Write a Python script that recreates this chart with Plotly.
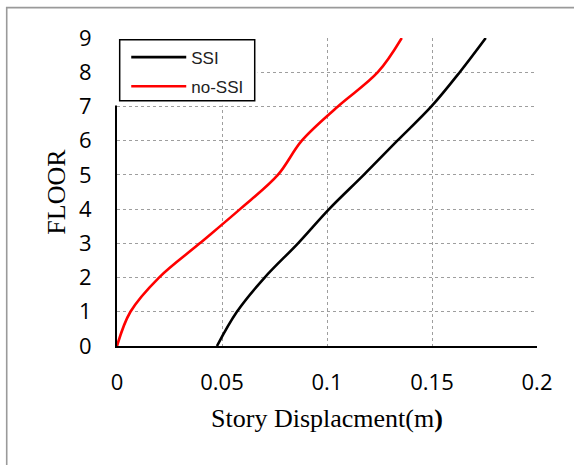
import plotly.graph_objects as go

# Storey levels and peak lateral displacement (m) per storey
floors = [0, 1, 2, 3, 4, 5, 6, 7, 8, 9]
disp_ssi = [0.0476, 0.0571, 0.0703, 0.0862, 0.1010, 0.1175, 0.1335, 0.1497, 0.1632, 0.1756]
disp_no_ssi = [0.0, 0.0064, 0.0200, 0.0394, 0.0586, 0.0766, 0.0880, 0.1052, 0.1242, 0.1356]

x_ticks = [0, 0.05, 0.1, 0.15, 0.2]
x_tick_text = ["0", "0.05", "0.1", "0.15", "0.2"]
y_ticks = list(range(0, 10))

fig = go.Figure()
fig.add_trace(go.Scatter(
    x=disp_ssi, y=floors, mode="lines", name="SSI", legendgroup="a",
    line=dict(color="black", width=2.6, shape="spline", smoothing=1.0),
))
fig.add_trace(go.Scatter(
    x=disp_no_ssi, y=floors, mode="lines", name="no-SSI", legendgroup="b",
    line=dict(color="#ff0000", width=2.6, shape="spline", smoothing=1.0),
))

tick_font = dict(family="Open Sans, sans-serif", size=22, color="black")
title_font = dict(family="Liberation Serif, Times New Roman, serif", size=26, color="black")

fig.update_layout(
    width=574, height=465,
    margin=dict(l=117, r=37, t=38, b=119, autoexpand=False),
    paper_bgcolor="white", plot_bgcolor="white",
    showlegend=True,
    legend=dict(
        x=0.022, y=0.995, xanchor="left", yanchor="top",
        bgcolor="rgba(0,0,0,0)", borderwidth=0,
        font=dict(family="Liberation Sans, Arial, sans-serif", size=17, color="#222"),
        itemwidth=55, tracegroupgap=4,
    ),
    xaxis=dict(
        range=[0, 0.2], tickvals=x_ticks, ticktext=x_tick_text,
        showgrid=True, gridcolor="#9e9e9e", griddash="dot", gridwidth=1,
        showline=True, linecolor="black", linewidth=2,
        zeroline=False, ticks="", ticklabelstandoff=16,
        tickfont=tick_font,
        title=dict(text="Story Displacment(m<b>)</b>", font=title_font, standoff=13),
    ),
    yaxis=dict(
        range=[0, 9], tickvals=y_ticks,
        showgrid=True, gridcolor="#9e9e9e", griddash="dot", gridwidth=1,
        showline=True, linecolor="black", linewidth=2,
        zeroline=False, ticks="", ticklabelstandoff=19,
        tickfont=tick_font,
        title=dict(text="FLOOR", font=title_font, standoff=6),
    ),
    shapes=[
        # white panel behind the legend, hiding grid and axis above floor 7
        dict(type="rect", xref="paper", yref="paper", x0=-0.015, x1=0.335,
             y0=0.7811, y1=1.05, fillcolor="white", line=dict(width=0), layer="above"),
        # legend frame
        dict(type="rect", xref="paper", yref="paper", x0=0.0064, x1=0.3279,
             y0=0.796, y1=0.9945, fillcolor="rgba(0,0,0,0)",
             line=dict(color="black", width=1.5), layer="above"),
        # outer chart frame
        dict(type="rect", xref="paper", yref="paper", x0=-0.2626, x1=1.12,
             y0=-0.42, y1=1.0986, fillcolor="rgba(0,0,0,0)",
             line=dict(color="#9a9a9a", width=1.6), layer="above"),
    ],
)

fig.write_html("out.html")
